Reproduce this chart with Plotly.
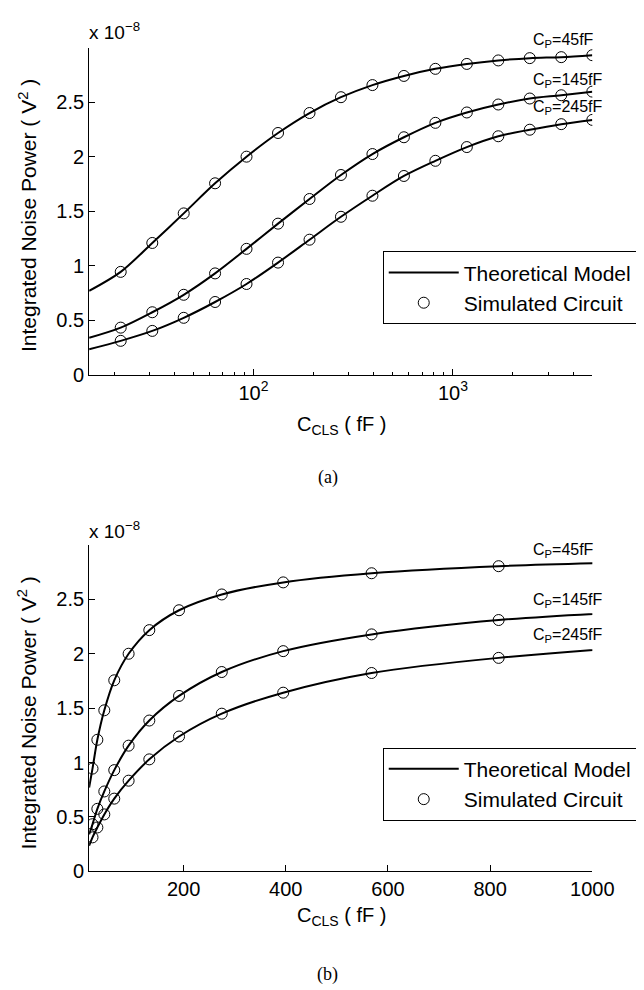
import plotly.graph_objects as go

# ---------------- data (values in units of 1e-8 V^2) ----------------
c_cls_sim = [21.6, 31.1, 44.7, 64.2, 92.3, 132.8, 191.0, 274.6, 394.9,
             567.9, 816.6, 1174.3, 1688.6, 2428.3, 3491.9, 5000.0]
c_cls_theory = [15.0, 21.6, 31.1, 44.7, 64.2, 92.3, 132.8, 191.0, 274.6, 394.9,
                567.9, 816.6, 1174.3, 1688.6, 2428.3, 3491.9, 5000.0]

sim_cp45 = [0.944, 1.209, 1.48, 1.756, 2.0, 2.217, 2.40, 2.545, 2.656,
            2.74, 2.805, 2.85, 2.882, 2.903, 2.912, 2.93]
sim_cp145 = [0.433, 0.574, 0.734, 0.93, 1.155, 1.386, 1.612, 1.832, 2.024,
             2.178, 2.31, 2.405, 2.478, 2.533, 2.563, 2.596]
sim_cp245 = [0.312, 0.403, 0.523, 0.668, 0.833, 1.029, 1.239, 1.449, 1.642,
             1.823, 1.962, 2.088, 2.187, 2.247, 2.298, 2.337]

theory_cp45 = [0.77, 0.944, 1.209, 1.48, 1.756, 2.0, 2.217, 2.40, 2.545, 2.656,
               2.74, 2.805, 2.85, 2.882, 2.903, 2.912, 2.93]
theory_cp145 = [0.34, 0.433, 0.574, 0.734, 0.93, 1.155, 1.386, 1.612, 1.832, 2.024,
                2.178, 2.31, 2.405, 2.478, 2.533, 2.563, 2.596]
theory_cp245 = [0.235, 0.312, 0.403, 0.523, 0.668, 0.833, 1.029, 1.239, 1.449, 1.642,
                1.823, 1.962, 2.088, 2.187, 2.247, 2.298, 2.337]

curve_labels = ["C<sub>P</sub>=45fF", "C<sub>P</sub>=145fF", "C<sub>P</sub>=245fF"]
y_ticks = [0, 0.5, 1, 1.5, 2, 2.5]
y_tick_text = ["0", "0.5", "1", "1.5", "2", "2.5"]
x_log_ticks = [100, 1000]
x_log_tick_text = ["10<sup>2</sup>", "10<sup>3</sup>"]
x_log_minor = [20, 30, 40, 50, 60, 70, 80, 90, 200, 300, 400, 500, 600, 700,
               800, 900, 2000, 3000, 4000, 5000]
x_lin_ticks = [200, 400, 600, 800, 1000]

# ---------------- figure ----------------
W, H = 644, 990
FONT = "Liberation Sans, Arial, Helvetica, sans-serif"


def px(x):
    return x / W


def py(y):
    return 1 - y / H


fig = go.Figure()

theories = [theory_cp45, theory_cp145, theory_cp245]
sims = [sim_cp45, sim_cp145, sim_cp245]

for panel, (xa, ya, leg) in enumerate([("x", "y", "legend"), ("x2", "y2", "legend2")]):
    for i in range(3):
        fig.add_trace(go.Scatter(
            x=c_cls_theory, y=theories[i], mode="lines",
            line=dict(color="black", width=2, shape="spline", smoothing=0.9),
            name="Theoretical Model", showlegend=(i == 0), legend=leg,
            xaxis=xa, yaxis=ya, legendrank=1,
        ))
    for i in range(3):
        fig.add_trace(go.Scatter(
            x=c_cls_sim, y=sims[i], mode="markers",
            marker=dict(symbol="circle-open", size=11, color="black",
                        line=dict(width=1, color="black")),
            name="Simulated Circuit", showlegend=(i == 0), legend=leg,
            xaxis=xa, yaxis=ya, legendrank=2,
        ))

xdom = [px(84), px(605)]
top_dom = [py(371), py(40)]
bot_dom = [py(873), py(543)]

axis_common = dict(showline=True, linecolor="black", linewidth=1, ticks="inside",
                   ticklen=6, tickcolor="black", showgrid=False, zeroline=False,
                   tickfont=dict(family=FONT, size=20, color="black"), mirror=False)

legend_common = dict(xanchor="left", yanchor="top", bordercolor="black", borderwidth=1,
                     bgcolor="white", font=dict(family=FONT, size=21, color="black"),
                     itemwidth=70, tracegroupgap=0)

fig.update_layout(
    width=W, height=H, margin=dict(l=0, r=0, t=0, b=0),
    paper_bgcolor="white", plot_bgcolor="white",
    font=dict(family=FONT, color="black"),
    xaxis=dict(domain=xdom, anchor="y", type="log",
               range=[1.1761, 3.69897], tickmode="array", tickvals=x_log_ticks,
               ticktext=x_log_tick_text,
               minor=dict(tickmode="array", tickvals=x_log_minor, ticks="inside",
                          ticklen=3, tickcolor="black"),
               **axis_common),
    yaxis=dict(domain=top_dom, anchor="x", range=[0, 3], tickmode="array",
               tickvals=y_ticks, ticktext=y_tick_text, **axis_common),
    xaxis2=dict(domain=xdom, anchor="y2", range=[15, 1000], tickmode="array",
                tickvals=x_lin_ticks, **axis_common),
    yaxis2=dict(domain=bot_dom, anchor="x2", range=[0, 3], tickmode="array",
                tickvals=y_ticks, ticktext=y_tick_text, **axis_common),
    legend=dict(x=px(388), y=py(246), **legend_common),
    legend2=dict(x=px(388), y=py(748), **legend_common),
    showlegend=True,
)

ann = []
for top, ytitle_c, xtitle_c, exp_c, lbl_ys, cap_y in [
        (True, 210, 422, 23, [33, 73, 101], 475),
        (False, 713, 919, 528, [549, 599, 635], 977)]:
    ann.append(dict(text="Integrated Noise Power ( V<sup>2</sup> )", x=px(20), y=py(ytitle_c),
                    xref="paper", yref="paper", textangle=-90, showarrow=False,
                    xanchor="center", yanchor="middle",
                    font=dict(family=FONT, size=21, color="black")))
    ann.append(dict(text="C<sub>CLS</sub> ( fF )", x=px(345), y=py(xtitle_c),
                    xref="paper", yref="paper", showarrow=False,
                    xanchor="center", yanchor="middle",
                    font=dict(family=FONT, size=20, color="black")))
    ann.append(dict(text="x 10<sup>−8</sup>", x=px(82), y=py(exp_c),
                    xref="paper", yref="paper", showarrow=False,
                    xanchor="left", yanchor="middle",
                    font=dict(family=FONT, size=19, color="black")))
    for lbl, ly in zip(curve_labels, lbl_ys):
        ann.append(dict(text=lbl, x=px(541), y=py(ly), xref="paper", yref="paper",
                        showarrow=False, xanchor="left", yanchor="middle",
                        font=dict(family=FONT, size=16, color="black")))
    ann.append(dict(text="(a)" if top else "(b)", x=px(331), y=py(cap_y),
                    xref="paper", yref="paper", showarrow=False,
                    xanchor="center", yanchor="middle",
                    font=dict(family="Liberation Serif, Times New Roman, serif",
                              size=18, color="black")))

fig.update_layout(annotations=ann)

fig.write_html("out.html")
